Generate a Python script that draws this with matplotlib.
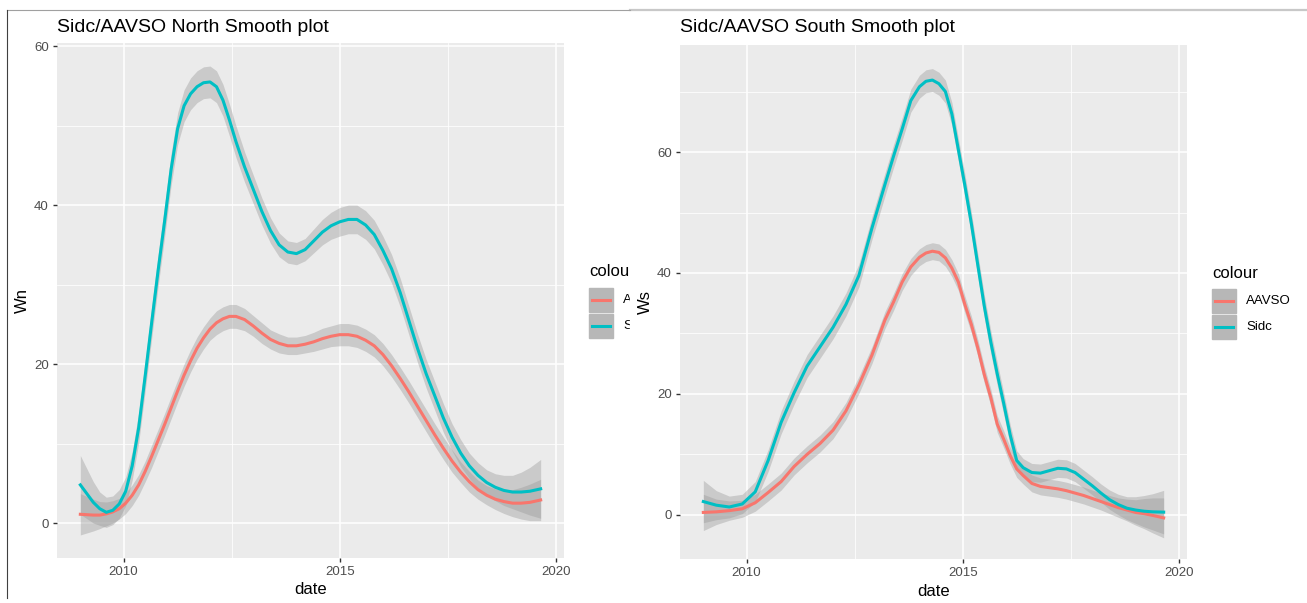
import matplotlib
matplotlib.use("Agg")
import matplotlib.pyplot as plt
from matplotlib.patches import Rectangle
from matplotlib.lines import Line2D

plt.rcParams["font.family"] = ["Liberation Sans", "DejaVu Sans"]

# smoothed fits (decimal years)
north_dates = [2009.0, 2009.3, 2009.45, 2009.6, 2009.75, 2009.9, 2010.05, 2010.2,
               2010.35, 2010.5, 2010.65, 2010.8, 2010.95, 2011.1, 2011.25, 2011.4,
               2011.55, 2011.7, 2011.85, 2012.0, 2012.15, 2012.3, 2012.45, 2012.6,
               2012.8, 2013.0, 2013.2, 2013.4, 2013.6, 2013.8, 2014.0, 2014.2,
               2014.4, 2014.6, 2014.8, 2015.0, 2015.2, 2015.4, 2015.6, 2015.8,
               2016.0, 2016.2, 2016.4, 2016.6, 2016.8, 2017.0, 2017.2, 2017.4,
               2017.6, 2017.8, 2018.0, 2018.2, 2018.4, 2018.6, 2018.8, 2019.0,
               2019.2, 2019.4, 2019.65]
north_sidc = [4.8, 2.6, 1.8, 1.35, 1.6, 2.4, 4.0, 7.2, 12.0, 18.5,
              25.2, 31.8, 38.0, 44.5, 49.6, 52.5, 54.0, 54.9, 55.4, 55.5,
              54.9, 53.2, 50.7, 48.0, 44.8, 42.0, 39.2, 36.8, 35.0, 34.1,
              33.9, 34.4, 35.5, 36.6, 37.4, 37.9, 38.2, 38.2, 37.5, 36.3,
              34.3, 32.0, 29.0, 25.5, 22.0, 18.8, 16.0, 13.2, 10.8, 8.8,
              7.2, 6.0, 5.1, 4.5, 4.1, 3.9, 3.9, 4.0, 4.3]
north_sidc_se = [3.7, 2.6, 2.1, 1.9, 1.8, 1.8, 1.8, 1.8, 1.9, 1.9,
                 2.0, 2.0, 2.0, 2.0, 2.0, 2.0, 2.0, 2.0, 2.0, 2.0,
                 2.0, 2.0, 2.0, 2.0, 1.9, 1.8, 1.7, 1.6, 1.5, 1.4,
                 1.4, 1.4, 1.5, 1.6, 1.7, 1.8, 1.8, 1.8, 1.8, 1.8,
                 1.8, 1.8, 1.8, 1.8, 1.8, 1.8, 1.8, 1.8, 1.7, 1.7,
                 1.6, 1.6, 1.6, 1.7, 1.9, 2.1, 2.5, 3.0, 3.7]
north_aavso = [1.1, 1.0, 1.0, 1.15, 1.4, 1.8, 2.5, 3.5, 4.8, 6.5,
               8.4, 10.4, 12.4, 14.5, 16.6, 18.6, 20.4, 22.0, 23.3, 24.4,
               25.2, 25.7, 26.0, 26.0, 25.6, 24.8, 23.9, 23.1, 22.6, 22.3,
               22.3, 22.5, 22.8, 23.2, 23.5, 23.7, 23.7, 23.5, 23.0, 22.3,
               21.2, 19.8, 18.2, 16.5, 14.7, 12.9, 11.1, 9.4, 7.8, 6.4,
               5.2, 4.2, 3.5, 3.0, 2.7, 2.5, 2.5, 2.6, 2.9]
north_aavso_se = [2.6, 2.0, 1.7, 1.5, 1.4, 1.3, 1.3, 1.3, 1.3, 1.3,
                  1.4, 1.4, 1.4, 1.4, 1.4, 1.4, 1.4, 1.4, 1.4, 1.4,
                  1.5, 1.5, 1.5, 1.5, 1.4, 1.3, 1.3, 1.2, 1.2, 1.1,
                  1.1, 1.1, 1.2, 1.3, 1.3, 1.4, 1.4, 1.4, 1.4, 1.4,
                  1.4, 1.4, 1.4, 1.4, 1.4, 1.4, 1.4, 1.4, 1.4, 1.3,
                  1.3, 1.2, 1.2, 1.3, 1.5, 1.7, 2.0, 2.3, 2.6]

south_dates = [2009.0, 2009.3, 2009.6, 2009.9, 2010.2, 2010.5, 2010.8, 2011.1,
               2011.4, 2011.7, 2012.0, 2012.3, 2012.6, 2012.9, 2013.2, 2013.4,
               2013.6, 2013.8, 2014.0, 2014.15, 2014.3, 2014.45, 2014.6, 2014.75,
               2014.9, 2015.05, 2015.2, 2015.35, 2015.5, 2015.65, 2015.8, 2015.95,
               2016.1, 2016.25, 2016.4, 2016.6, 2016.8, 2017.0, 2017.2, 2017.4,
               2017.6, 2017.8, 2018.0, 2018.2, 2018.4, 2018.6, 2018.8, 2019.0,
               2019.2, 2019.4, 2019.65]
south_sidc = [2.2, 1.6, 1.3, 1.8, 3.8, 9.0, 15.3, 20.2, 24.6, 27.8,
              31.0, 34.8, 39.6, 47.4, 54.6, 59.3, 63.8, 68.5, 70.8, 71.7,
              71.9, 71.3, 70.0, 66.3, 60.4, 54.5, 48.2, 41.3, 34.5, 28.6,
              23.3, 18.4, 13.2, 9.0, 7.8, 7.0, 6.9, 7.3, 7.7, 7.6,
              7.0, 5.9, 4.8, 3.6, 2.5, 1.7, 1.1, 0.8, 0.6, 0.5,
              0.45]
south_sidc_se = [3.5, 2.4, 1.8, 1.6, 1.7, 1.8, 1.9, 1.9, 1.9, 1.9,
                 1.9, 1.9, 1.9, 1.9, 1.9, 1.9, 1.9, 1.9, 1.9, 1.9,
                 1.9, 1.9, 1.9, 1.9, 1.9, 1.9, 1.9, 1.9, 1.9, 1.9,
                 1.9, 1.8, 1.7, 1.6, 1.5, 1.5, 1.5, 1.5, 1.5, 1.5,
                 1.5, 1.5, 1.5, 1.5, 1.6, 1.7, 1.9, 2.2, 2.6, 3.0,
                 3.6]
south_aavso = [0.4, 0.5, 0.7, 1.0, 2.0, 3.7, 5.5, 8.0, 10.0, 11.8,
               14.0, 17.2, 21.5, 26.4, 32.2, 35.2, 38.5, 41.0, 42.6, 43.3,
               43.6, 43.4, 42.5, 40.8, 38.5, 34.8, 31.5, 27.6, 23.2, 19.4,
               15.0, 12.5, 9.8, 7.6, 6.5, 5.2, 4.7, 4.5, 4.3, 4.0,
               3.6, 3.2, 2.7, 2.2, 1.7, 1.2, 0.8, 0.4, 0.2, -0.1,
               -0.5]
south_aavso_se = [3.0, 2.1, 1.6, 1.4, 1.4, 1.4, 1.4, 1.4, 1.4, 1.4,
                  1.4, 1.4, 1.4, 1.4, 1.4, 1.4, 1.4, 1.4, 1.4, 1.4,
                  1.4, 1.4, 1.4, 1.4, 1.4, 1.4, 1.4, 1.4, 1.4, 1.4,
                  1.4, 1.4, 1.4, 1.4, 1.4, 1.4, 1.4, 1.4, 1.4, 1.4,
                  1.4, 1.4, 1.4, 1.4, 1.5, 1.6, 1.8, 2.1, 2.5, 2.9,
                  3.3]

series_names = ["AAVSO", "Sidc"]
series_colors = ["#F8766D", "#00BFC4"]

W, H = 1307, 603
fig = plt.figure(figsize=(W / 100, H / 100), dpi=100)


def px_box(x0, y0, x1, y1):
    # pixel box (top-left origin) -> figure fraction rect
    return [x0 / W, 1 - y1 / H, (x1 - x0) / W, (y1 - y0) / H]


def ggplot_panel(ax, dates, fits, ylim, ymajor, yminor, ylabel):
    ax.set_facecolor("#EBEBEB")
    for side in ax.spines.values():
        side.set_visible(False)
    ax.set_xlim(2008.46, 2020.19)
    ax.set_ylim(*ylim)
    ax.set_xticks([2010, 2015, 2020])
    ax.set_xticks([2012.5, 2017.5], minor=True)
    ax.set_yticks(ymajor)
    ax.set_yticks(yminor, minor=True)
    ax.grid(which="major", color="white", lw=1.1)
    ax.grid(which="minor", color="white", lw=0.55)
    ax.set_axisbelow(True)
    ax.tick_params(which="major", length=3, width=1, color="#333333",
                   labelcolor="#4D4D4D", labelsize=9.5, pad=3)
    ax.tick_params(which="minor", length=0)
    ax.set_xlabel("date", fontsize=12, labelpad=3)
    ax.set_ylabel(ylabel, fontsize=12, labelpad=3)
    for y, se in fits:
        lo = [a - b for a, b in zip(y, se)]
        hi = [a + b for a, b in zip(y, se)]
        ax.fill_between(dates, lo, hi, color="#999999", alpha=0.4, lw=0, zorder=2)
    for (y, se), color in zip(fits, series_colors):
        ax.plot(dates, y, color=color, lw=2.2, zorder=3, solid_joinstyle="round")


def legend(x0, y0, labels, z):
    fig.text(x0 / W, 1 - y0 / H, "colour", fontsize=12, va="center", ha="left",
             zorder=z)
    for i, (lab, color) in enumerate(zip(labels, series_colors)):
        top = y0 + 16 + i * 26
        fig.patches.append(Rectangle((x0 / W, 1 - (top + 24) / H), 24 / W, 24 / H,
                                     transform=fig.transFigure, color="#B7B7B7",
                                     zorder=z))
        fig.lines.append(Line2D([(x0 + 3) / W, (x0 + 21) / W],
                                [1 - (top + 12) / H] * 2, transform=fig.transFigure,
                                color=color, lw=2.2, zorder=z + 0.1))
        fig.text((x0 + 34) / W, 1 - (top + 12) / H, lab, fontsize=9.5, va="center",
                 ha="left", zorder=z + 0.1)


# left picture (North)
ax1 = fig.add_axes(px_box(57, 43, 564, 558))
ggplot_panel(ax1, north_dates,
             [(north_aavso, north_aavso_se), (north_sidc, north_sidc_se)],
             (-4.4, 60.4), [0, 20, 40, 60], [10, 30, 50], "Wn")
fig.text(57 / W, 1 - 27 / H, "Sidc/AAVSO North Smooth plot", fontsize=14,
         va="center", ha="left")
legend(589, 272, ["A", "S"], 1)

# right picture sits on top of the left one and cuts its legend
fig.patches.append(Rectangle((630 / W, 0), 1 - 630 / W, 1 - 10 / H,
                             transform=fig.transFigure, color="white", zorder=2))
fig.lines.append(Line2D([630 / W, 1], [1 - 10 / H] * 2, transform=fig.transFigure,
                        color="#C8C8C8", lw=1.6, zorder=2.1))
fig.lines.append(Line2D([7 / W, 630 / W], [1 - 10 / H] * 2, transform=fig.transFigure,
                        color="#A0A0A0", lw=0.8, zorder=2.1))
fig.lines.append(Line2D([7 / W] * 2, [1 - 10 / H, 1 - 598 / H],
                        transform=fig.transFigure, color="#404040", lw=0.8,
                        zorder=2.1))

# right picture (South)
ax2 = fig.add_axes(px_box(680, 45, 1187, 559))
ax2.set_zorder(3)
ggplot_panel(ax2, south_dates,
             [(south_aavso, south_aavso_se), (south_sidc, south_sidc_se)],
             (-7.3, 77.7), [0, 20, 40, 60], [10, 30, 50, 70], "Ws")
fig.text(680 / W, 1 - 27 / H, "Sidc/AAVSO South Smooth plot", fontsize=14,
         va="center", ha="left", zorder=4)
legend(1212, 273, series_names, 4)

fig.savefig("out.png", dpi=100)
plt.close(fig)
